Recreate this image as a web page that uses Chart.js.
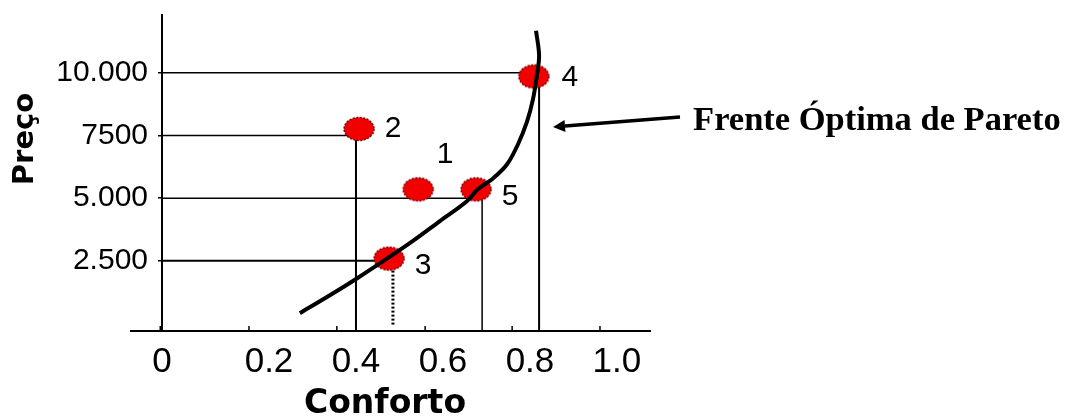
<!DOCTYPE html>
<html><head><meta charset="utf-8">
<script src="https://cdn.jsdelivr.net/npm/chart.js@4/dist/chart.umd.min.js"></script>
<style>html,body{margin:0;padding:0;background:#fff;}#wrap{width:1069px;height:417px;}</style>
</head><body><div id="wrap"><canvas id="c" width="1069" height="417"></canvas></div>
<script>
// ---------- data ----------
const pointLabels = ['1', '2', '3', '4', '5'];
const comfort     = [0.543, 0.407, 0.476, 0.809, 0.676];   // Conforto
const price       = [5350, 7760, 2590, 9850, 5350];        // Preço

// Pareto front curve
const frontComfort = [0.271, 0.340, 0.402, 0.471, 0.531, 0.593, 0.655, 0.680, 0.715, 0.747, 0.772, 0.793, 0.807, 0.816, 0.821, 0.814];
const frontPrice   = [415, 1126, 1797, 2587, 3298, 4088, 4878, 5351, 5786, 6339, 7129, 8037, 8946, 9893, 10683, 11671];

// guide lines: horizontal ones run from the axis at each price tick to a point
const yTickValues = [2500, 5000, 7500, 10000];
const yTickLabels = ['2.500', '5.000', '7500', '10.000'];
const hGuideToPoint = [2, 4, 1, 3];
// vertical drop lines from points down to the comfort axis
const dropPoint   = [1, 4, 3, 2];
const dropComfort = [0.400, 0.690, 0.821, 0.485];
const dropEndPrice = [null, null, null, -60];

const xTickValues = [0, 0.2, 0.4, 0.6, 0.8, 1.0];
const xTickLabels = ['0', '0.2', '0.4', '0.6', '0.8', '1.0'];
// small tick marks on the comfort axis (as drawn, slightly left of the labels)
const xTickMarks  = [-0.05, 0.154, 0.356, 0.559, 0.759, 0.961];

const annotationText = 'Frente Óptima de Pareto';
const arrowFrom = {x: 1.145, y: 8235};
const arrowTo   = {x: 0.853, y: 7840};
const annotationAt = {x: 1.175, y: 7720};

const xTitle = 'Conforto';
const yTitle = 'Preço';

// ---------- scale ranges ----------
const X_MIN = -0.046, X_MAX = 1.076;
const Y_MIN = -296,  Y_MAX = 12300;

// ---------- styles ----------
const hGuideWidths = [2, 1.5, 1.5, 1.5];
const dropWidths   = [2, 1.5, 2, 3];
const dropDash     = [[], [], [], [2, 2]];
const labelOffsets = [[27, -35], [34, 0], [34, 7], [36, 1], [34, 7]];

function ellipseMarker() {
  const c = document.createElement('canvas');
  c.width = 34; c.height = 28;
  const g = c.getContext('2d');
  g.beginPath();
  g.ellipse(17, 14, 15, 11.5, 0, 0, Math.PI * 2);
  g.fillStyle = '#f20000';
  g.fill();
  g.lineWidth = 1.5;
  g.strokeStyle = '#700000';
  g.setLineDash([2, 1.5]);
  g.stroke();
  return c;
}
const marker = ellipseMarker();

const datasets = [];
// Pareto front
datasets.push({
  type: 'line', label: 'front', order: 0,
  data: frontComfort.map((x, i) => ({x, y: frontPrice[i]})),
  borderColor: '#000', borderWidth: 4, tension: 0.35, pointRadius: 0,
  borderCapStyle: 'butt', clip: false
});
// points
datasets.push({
  type: 'scatter', label: 'points', order: 1,
  data: comfort.map((x, i) => ({x, y: price[i]})),
  pointStyle: marker, pointRadius: 14, showLine: false
});
// horizontal guides
yTickValues.forEach((v, i) => {
  const p = hGuideToPoint[i];
  datasets.push({
    type: 'line', label: 'h' + i, order: 2,
    data: [{x: X_MIN, y: v}, {x: comfort[p], y: v}],
    borderColor: '#000', borderWidth: hGuideWidths[i], pointRadius: 0, tension: 0
  });
});
// vertical drops
dropPoint.forEach((p, i) => {
  datasets.push({
    type: 'line', label: 'v' + i, order: 2,
    data: [{x: dropComfort[i], y: price[p]}, {x: dropComfort[i], y: dropEndPrice[i] === null ? Y_MIN : dropEndPrice[i]}],
    borderColor: '#000', borderWidth: dropWidths[i], borderDash: dropDash[i], pointRadius: 0, tension: 0
  });
});

const decorPlugin = {
  id: 'decor',
  afterDatasetsDraw(chart) {
    const ctx = chart.ctx, xs = chart.scales.x, ys = chart.scales.y, ca = chart.chartArea;
    ctx.save();
    // axis line extends left of the price axis
    ctx.strokeStyle = '#000'; ctx.lineWidth = 2;
    ctx.beginPath(); ctx.moveTo(ca.left - 32, ca.bottom); ctx.lineTo(ca.left, ca.bottom); ctx.stroke();
    // small tick marks pointing up
    ctx.lineWidth = 1.5;
    xTickMarks.forEach(v => {
      const px = xs.getPixelForValue(v);
      ctx.beginPath(); ctx.moveTo(px, ca.bottom); ctx.lineTo(px, ca.bottom - 5); ctx.stroke();
    });
    // point labels
    const meta = chart.getDatasetMeta(1);
    ctx.fillStyle = '#000';
    ctx.font = '30px "Liberation Sans", Arial, sans-serif';
    ctx.textAlign = 'center'; ctx.textBaseline = 'middle';
    meta.data.forEach((el, i) => {
      ctx.fillText(pointLabels[i], el.x + labelOffsets[i][0], el.y + labelOffsets[i][1]);
    });
    // axis titles
    ctx.font = 'bold 33px "DejaVu Sans", Verdana, sans-serif';
    ctx.textAlign = 'center'; ctx.textBaseline = 'alphabetic';
    ctx.fillText(xTitle, 385, 413);
    ctx.save();
    ctx.translate(33, 139);
    ctx.rotate(-Math.PI / 2);
    ctx.font = 'bold 29px "DejaVu Sans", Verdana, sans-serif';
    ctx.fillText(yTitle, 0, 0);
    ctx.restore();
    // annotation arrow + text
    const ax1 = xs.getPixelForValue(arrowFrom.x), ay1 = ys.getPixelForValue(arrowFrom.y);
    const ax2 = xs.getPixelForValue(arrowTo.x),   ay2 = ys.getPixelForValue(arrowTo.y);
    const ang = Math.atan2(ay2 - ay1, ax2 - ax1);
    const headLen = 12, headW = 6;
    const bx = ax2 - headLen * Math.cos(ang), by = ay2 - headLen * Math.sin(ang);
    ctx.lineWidth = 3.5;
    ctx.beginPath(); ctx.moveTo(ax1, ay1); ctx.lineTo(bx, by); ctx.stroke();
    ctx.beginPath();
    ctx.moveTo(ax2, ay2);
    ctx.lineTo(bx + headW * Math.sin(ang), by - headW * Math.cos(ang));
    ctx.lineTo(bx - headW * Math.sin(ang), by + headW * Math.cos(ang));
    ctx.closePath(); ctx.fill();
    ctx.font = 'bold 34.5px "Liberation Serif", "Times New Roman", serif';
    ctx.textAlign = 'left'; ctx.textBaseline = 'alphabetic';
    ctx.fillText(annotationText, xs.getPixelForValue(annotationAt.x), ys.getPixelForValue(annotationAt.y));
    ctx.restore();
  }
};

new Chart(document.getElementById('c'), {
  data: {datasets},
  options: {
    responsive: false, animation: false, devicePixelRatio: 1,
    layout: {padding: {left: 0, top: 12, right: 419, bottom: 0}},
    plugins: {legend: {display: false}, tooltip: {enabled: false}},
    scales: {
      x: {
        type: 'linear', min: X_MIN, max: X_MAX,
        afterFit(s) { s.height = 86; s.paddingLeft = 0; s.paddingRight = 0; },
        afterBuildTicks(s) {
          // the "0" label sits at the axis origin as in the reference
          s.ticks = xTickValues.map(v => ({value: v === 0 ? X_MIN : v}));
        },
        ticks: {
          callback: (v, i) => xTickLabels[i],
          color: '#000', padding: 10, maxRotation: 0, autoSkip: false,
          font: {family: '"Liberation Sans", Arial, sans-serif', size: 35}
        },
        grid: {display: true, drawOnChartArea: false, drawTicks: false, color: 'rgba(0,0,0,0)'},
        border: {display: true, color: '#000', width: 2}
      },
      y: {
        type: 'linear', min: Y_MIN, max: Y_MAX,
        afterFit(s) { s.width = 162; s.paddingTop = 0; s.paddingBottom = 0; },
        afterBuildTicks(s) { s.ticks = yTickValues.map(v => ({value: v})); },
        ticks: {
          callback: (v, i) => yTickLabels[i],
          color: '#000', padding: 10, autoSkip: false,
          font: {family: '"Liberation Sans", Arial, sans-serif', size: 30}
        },
        grid: {display: true, drawOnChartArea: false, drawTicks: true, tickLength: 4, color: '#000', lineWidth: 1.5},
        border: {display: true, color: '#000', width: 2}
      }
    }
  },
  plugins: [decorPlugin]
});
</script></body></html>
